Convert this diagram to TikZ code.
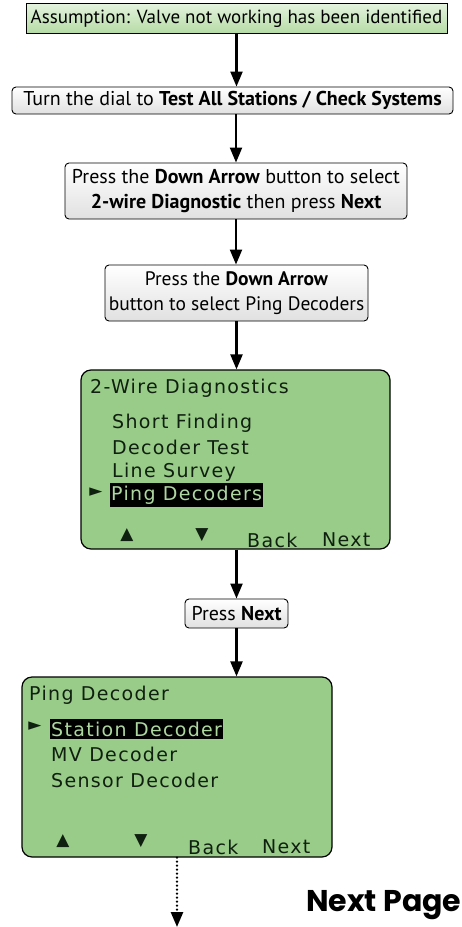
\documentclass[tikz,border=0pt]{standalone}
\usepackage{fontspec}
\setmainfont{PT Sans}
\newfontfamily\lcdfont[LetterSpace=7]{DejaVu Sans}
\newfontfamily\symfont{DejaVu Sans}
\newfontfamily\headfont{Poppins}
\usetikzlibrary{arrows.meta}
\definecolor{lcdgreen}{HTML}{99CC88}
\definecolor{lcdtext}{HTML}{102010}
\definecolor{topgreen}{HTML}{E4F3DE}
\definecolor{botgreen}{HTML}{B5DBA5}
\tikzset{
  arr/.style={line width=2.2pt,-{Triangle[width=12pt,length=15pt]}},
  darr/.style={line width=2.6pt,line cap=round,dash pattern=on 0pt off 4pt,-{Triangle[width=12pt,length=15pt,line cap=butt]}},
  greenbox/.style={draw,line width=0.9pt,top color=topgreen,bottom color=botgreen,inner sep=0pt,font=\fontsize{19}{22}\selectfont},
  whitebox/.style={draw,line width=0.9pt,rounded corners=4pt,top color=white,bottom color=black!12,inner sep=0pt,align=center,font=\fontsize{19.5}{25}\selectfont},
  screen/.style={draw,line width=1.2pt,rounded corners=10pt,fill=lcdgreen,inner sep=0pt},
  lcd/.style={text=lcdtext,anchor=west,inner sep=0pt,font=\lcdfont\fontsize{19}{21}\selectfont},
  lcdsel/.style={fill=black,text=lcdgreen!80!white,anchor=west,inner xsep=1pt,inner ysep=3pt,font=\lcdfont\fontsize{19}{21}\selectfont},
  sym/.style={text=lcdtext,inner sep=0pt,font=\symfont\fontsize{17}{18}\selectfont},
}
\begin{document}
\begin{tikzpicture}[x=1pt,y=-1pt]
\useasboundingbox (0,0) rectangle (461,927);
% boxes
\node[greenbox,minimum width=421pt,minimum height=30pt] (b1) at (236.5,18.5) {Assumption: Valve not working has been identified};
\node[whitebox,minimum width=441pt,minimum height=27pt,font=\fontsize{20}{25}\selectfont] (b2) at (232.5,100.5) {Turn the dial to \textbf{Test All Stations / Check Systems}};
\node[whitebox,minimum width=342pt,minimum height=56pt,font=\fontsize{20}{25}\selectfont] (b3) at (236,191) {Press the \textbf{Down Arrow} button to select\\\textbf{2-wire Diagnostic} then press \textbf{Next}};
\node[whitebox,minimum width=263pt,minimum height=56pt] (b4) at (236.5,293) {Press the \textbf{Down Arrow}\\button to select Ping Decoders};
% screen 1
\node[screen,minimum width=309pt,minimum height=179pt] (s1) at (235.5,459.5) {};
\node[lcd] (s1h) at (90,388) {2-Wire Diagnostics};
\node[lcd] (s1a) at (112,423) {Short Finding};
\node[lcd] (s1b) at (112,447) {Decoder Test};
\node[lcd] (s1c) at (112,472) {Line Survey};
\node[lcdsel] (s1d) at (110,495) {Ping Decoders};
\node[sym] (s1p) at (96,492) {\char"25BA};
\node[sym] (s1u) at (127,535) {\char"25B2};
\node[sym] (s1w) at (202,535) {\char"25BC};
\node[lcd] (s1back) at (247,540) {Back};
\node[lcd] (s1next) at (322,540) {Next};
% press next
\node[whitebox,minimum width=103pt,minimum height=29pt,font=\fontsize{20}{25}\selectfont] (pn) at (236.5,613.5) {Press \textbf{Next}};
% screen 2
\node[screen,minimum width=310pt,minimum height=180pt] (s2) at (177,767) {};
\node[lcd] (s2h) at (29,695) {Ping Decoder};
\node[lcdsel] (s2a) at (50,729) {Station Decoder};
\node[sym] (s2p) at (35,726) {\char"25BA};
\node[lcd] (s2b) at (51,754) {MV Decoder};
\node[lcd] (s2c) at (51,780) {Sensor Decoder};
\node[sym] (s2u) at (63,841) {\char"25B2};
\node[sym] (s2w) at (141,841) {\char"25BC};
\node[lcd] (s2back) at (188,847) {Back};
\node[lcd] (s2next) at (262,847) {Next};
% next page
\node[anchor=base west,inner sep=0pt,font=\headfont\bfseries\fontsize{30}{32}\selectfont] (np) at (306,911) {Next Page};
\coordinate (end) at (177,927);
% arrows
\draw[arr] (b1.south) -- (b1.south |- b2.north);
\draw[arr] (b3.north |- b2.south) -- (b3.north);
\draw[arr] (b3.south) -- (b3.south |- b4.north);
\draw[arr] (b4.south) -- (b4.south |- s1.north);
\draw[arr] (pn.north |- s1.south) -- (pn.north);
\draw[arr] (pn.south) -- (pn.south |- s2.north);
\draw[darr] (s2.south) -- (end);
\end{tikzpicture}
\end{document}
